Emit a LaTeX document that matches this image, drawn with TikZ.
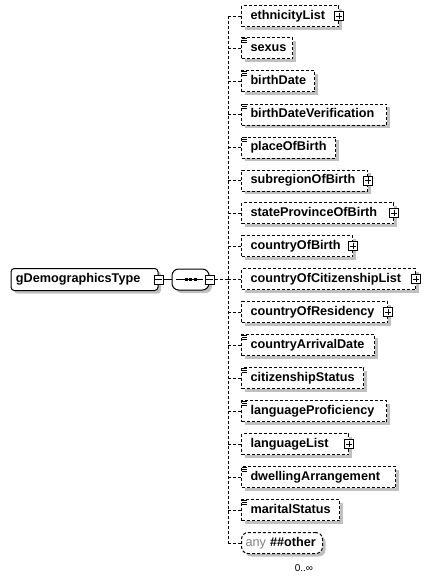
\documentclass[tikz,border=0pt]{standalone}
\usepackage{fontspec}
\setmainfont{Liberation Sans}
\usetikzlibrary{shadows}
\definecolor{shadowgray}{HTML}{C0C0C0}
\newcommand\elemfont{\fontsize{9.5pt}{11pt}\selectfont\bfseries}
\tikzset{
 oneline/.style={line width=0.75pt},
 dsh/.style={dash pattern=on 2.25pt off 1.5pt},
 shad/.style={drop shadow={shadow xshift=2.25pt, shadow yshift=-2.25pt, fill=shadowgray, opacity=1}},
 elembox/.style={draw, oneline, dsh, fill=white, shad, anchor=west, rectangle,
   minimum height=15.75pt, inner xsep=6.75pt, inner ysep=0pt, align=left,
   text height=7pt, text depth=2.2pt, font=\elemfont},
 ctrlbox/.style={draw, oneline, fill=white, minimum size=6.75pt, inner sep=0pt, rectangle},
 plusbox/.style={ctrlbox, path picture={
   \draw[oneline] ([xshift=-2.4pt]path picture bounding box.center) -- ([xshift=2.4pt]path picture bounding box.center);
   \draw[oneline] ([yshift=-2.4pt]path picture bounding box.center) -- ([yshift=2.4pt]path picture bounding box.center);}},
 minusbox/.style={ctrlbox, path picture={
   \draw[oneline] ([xshift=-2.4pt]path picture bounding box.center) -- ([xshift=2.4pt]path picture bounding box.center);}},
 conn/.style={oneline, dsh},
 solidconn/.style={oneline},
 gbox/.style={draw, oneline, fill=white, shad, rectangle, rounded corners=2.5pt,
   minimum height=16.5pt, inner xsep=3.75pt, inner ysep=0pt, align=left,
   text height=7pt, text depth=2.2pt, font=\elemfont},
 seqbox/.style={draw, oneline, fill=white, shad, rectangle, rounded corners=5pt,
   minimum width=27.75pt, minimum height=15.75pt, inner sep=0pt},
 anybox/.style={draw, oneline, dsh, fill=white, shad, rectangle, rounded corners=5pt, anchor=west,
   minimum height=15.75pt, inner xsep=3pt, inner ysep=0pt, align=left,
   text height=7pt, text depth=2.2pt, font=\elemfont},
 multfont/.style={font=\fontsize{7.5pt}{9pt}\selectfont},
 iconline/.style={line width=0.6pt},
}
\newcommand\elem[4]{%
  \pgfmathsetmacro\tw{(#3-18)*0.75}%
  \node[elembox, minimum width=#3*0.75pt, text width=\tw pt] (#1) at (241,#2) {#4};}
\newcommand\plusat[1]{\node[plusbox] (#1plus) at (#1.east) {};}
\newcommand\simpleicon[1]{%
  \foreach \d in {1,3,5} {\draw[iconline] ([xshift=1pt,yshift=-\d*0.75pt]#1.north west) -- ++(3.75pt,0);}}
\begin{document}
\begin{tikzpicture}[x=0.75pt,y=-0.75pt]
\useasboundingbox (0,0) rectangle (429,579);
% spine junction
\coordinate (jn) at (228,279.5);
% elements
\elem{e1}{16}{97}{ethnicityList}
\elem{e2}{48}{51}{sexus}
\elem{e3}{81}{73}{birthDate}
\elem{e4}{114.5}{145}{birthDateVerification}
\elem{e5}{147.5}{94}{placeOfBirth}
\elem{e6}{180.5}{126}{subregionOfBirth}
\elem{e7}{213}{152}{stateProvinceOfBirth}
\elem{e8}{246}{111}{countryOfBirth}
\elem{e9}{279}{174}{countryOfCitizenshipList}
\elem{e10}{312}{146}{countryOfResidency}
\elem{e11}{345}{133}{countryArrivalDate}
\elem{e12}{378}{122}{citizenshipStatus}
\elem{e13}{411}{145}{languageProficiency}
\elem{e14}{444}{107}{languageList}
\elem{e15}{477}{154}{dwellingArrangement}
\elem{e16}{510}{98}{maritalStatus}
\pgfmathsetmacro\atw{(81-8)*0.75}
\node[anybox, minimum width=81*0.75pt, text width=\atw pt] (e17) at (241,543)
  {{\color{gray}\mdseries any} \#\#other};
\node[multfont] (mult) at (304,568) {0..∞};
% plus boxes
\foreach \n in {e1,e6,e7,e8,e9,e10,e14} {\plusat{\n}}
% simple type icons
\foreach \n in {e2,e3,e4,e5,e11,e12,e13,e15,e16} {\simpleicon{\n}}
% spine and branches
\draw[conn] (jn |- e1.west) -- (jn |- e17.west);
\foreach \n in {e1,e2,e3,e4,e5,e6,e7,e8,e9,e10,e11,e12,e13,e14,e15,e16,e17}
  {\draw[conn] (jn |- \n.west) -- (\n.west);}
% left part
\pgfmathsetmacro\gtw{(147-10)*0.75}
\node[gbox, minimum width=147*0.75pt, text width=\gtw pt] (g) at (84.5,279.5) {gDemographicsType};
\node[minusbox] (gm) at (g.east) {};
\node[seqbox] (seq) at (190.5,279.5) {};
\draw[oneline] ([xshift=-10.9pt]seq.center) -- ([xshift=9.4pt]seq.center);
\foreach \dx in {-4.5,0,4.5} {\fill ([xshift=\dx*0.75pt]seq.center) +(-1.5,-1.5) rectangle +(1.5,1.5);}
\node[minusbox] (sm) at (seq.east) {};
\draw[solidconn] (gm.east) -- (seq.west);
\draw[conn] (sm.east) -- (jn);
\end{tikzpicture}
\end{document}
